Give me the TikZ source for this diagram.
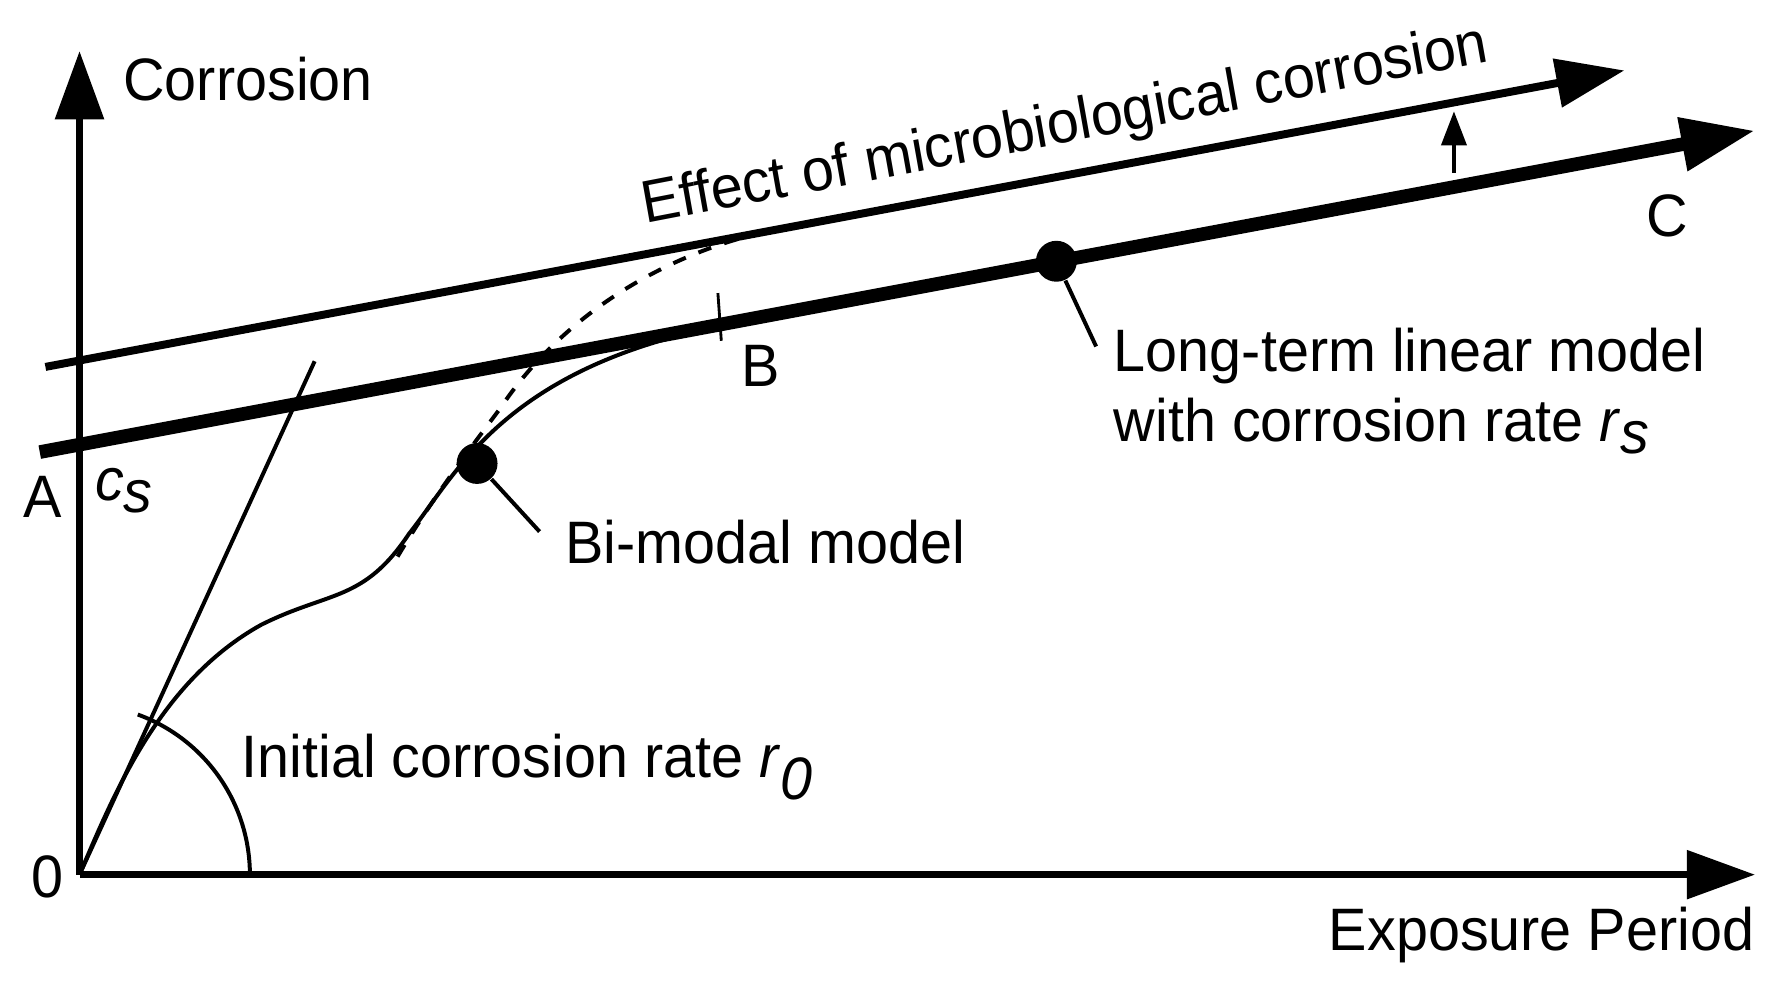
\documentclass[tikz,border=0pt]{standalone}
\usepackage{fontspec}
\setmainfont{Liberation Sans}
\usetikzlibrary{arrows.meta}
\begin{document}
\begin{tikzpicture}[x=0.01cm,y=-0.01cm,
  lbl/.style={font=\fontsize{15}{18}\selectfont,inner sep=0pt,xscale=0.96},
  big/.style={-{Triangle[length=0.6cm,width=0.42cm]}},
  dot/.style={circle,fill=black,minimum size=0.36cm,inner sep=0pt}]
\useasboundingbox (0,0) rectangle (1560,869);
\coordinate (O) at (70,770);
\coordinate (Ytip) at (70,45);
\coordinate (Xtip) at (1545,770);
\draw[line width=0.06cm,big] (O) -- (Ytip);
\draw[line width=0.06cm,big] (O) -- (Xtip);
\coordinate (A) at (35,398);
\coordinate (C) at (1545,115);
\draw[line width=0.12cm,-{Triangle[length=0.65cm,width=0.45cm]}] (A) -- (C);
\coordinate (U0) at (40,323);
\coordinate (U1) at (1430,62);
\draw[line width=0.07cm,big] (U0) -- (U1);
\coordinate (s0) at (1280,152);
\coordinate (s1) at (1280,98);
\draw[line width=0.035cm,-{Triangle[length=0.3cm,width=0.22cm]}] (s0) -- (s1);
\coordinate (T1) at (277,318);
\draw[line width=0.035cm] (O) -- (T1);
\draw[line width=0.035cm] (220,770) arc[start angle=0,end angle=-70,radius=150];
\draw[line width=0.035cm] (O) .. controls (100,700) and (140,600) .. (230,550)
  .. controls (290,520) and (320,530) .. (360,470)
  .. controls (400,420) and (440,330) .. (620,290);
\draw[line width=0.035cm,dash pattern=on 0.12cm off 0.12cm] (350,490) .. controls (380,440) and (410,400) .. (440,360)
  .. controls (500,270) and (600,215) .. (700,199);
\coordinate (B1) at (632,258);
\coordinate (B2) at (635,300);
\draw[line width=0.025cm] (B1) -- (B2);
\node[dot] (D1) at (930,230) {};
\node[dot] (D2) at (420,408) {};
\coordinate (L1) at (965,305);
\coordinate (L2) at (475,468);
\draw[line width=0.035cm] (D1) -- (L1);
\draw[line width=0.035cm] (D2) -- (L2);
\node[lbl,anchor=west] (tc) at (108,70) {Corrosion};
\node[lbl] (t0) at (42,772) {0};
\node[lbl,anchor=east] (tep) at (1545,823) {Exposure Period};
\node[lbl] (tA) at (38,437) {A};
\node[lbl] (tcs) at (110,432) {\textit{c}$_{\textit{s}}$};
\node[lbl] (tB) at (670,322) {B};
\node[lbl] (tC) at (1468,190) {C};
\node[lbl,anchor=west] (tl1) at (980,313) {Long-term linear model};
\node[lbl,anchor=west] (tl2) at (980,375) {with corrosion rate \textit{r}$_{\textit{s}}$};
\node[lbl,anchor=west] (tbm) at (497,477) {Bi-modal model};
\node[lbl,anchor=west] (tir) at (212,675) {Initial corrosion rate \textit{r}$_{\textit{0}}$};
\node[lbl,rotate=10.5] (tef) at (938,112) {Effect of microbiological corrosion};
\end{tikzpicture}
\end{document}
